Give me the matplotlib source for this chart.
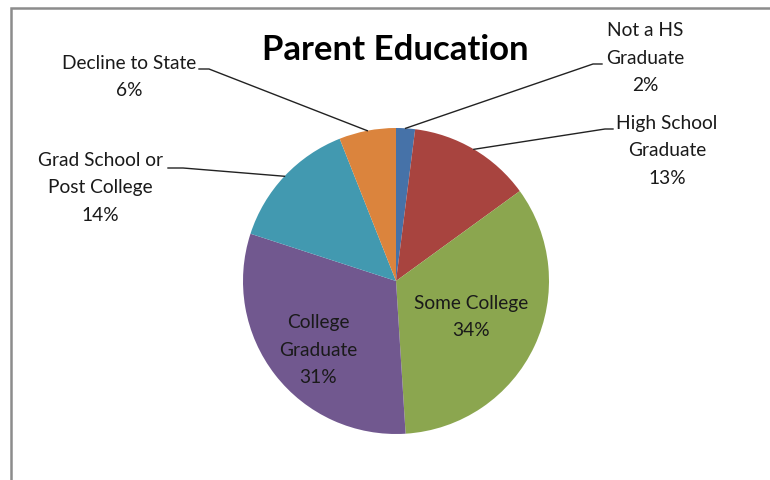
import numpy as np
import matplotlib.pyplot as plt
from matplotlib.patches import Rectangle

plt.rcParams['font.family'] = ['Lato', 'DejaVu Sans']

W, H = 770, 480

categories = ['Not a HS\nGraduate', 'High School\nGraduate', 'Some College',
              'College\nGraduate', 'Grad School or\nPost College', 'Decline to State']
shares = [2, 13, 34, 31, 14, 6]
colors = ['#4672A8', '#A8443F', '#8BA64F', '#71588F', '#4299B0', '#DB843D']

# label anchors (pixel coords, y from top); None -> label sits inside the wedge
label_pos = [(645, 58), (667, 151), (471, 317), (318, 350), (100, 188), (129, 77)]
line_end = [(593, 64), (605, 129), None, None, (183, 168), (209, 69)]
line_tip = [(602, 64), (613, 129), None, None, (168, 168), (199, 69)]

cx, cy, r = 396, 281, 153

fig = plt.figure(figsize=(W / 100, H / 100), dpi=100)
ax = fig.add_axes([0, 0, 1, 1])

wedges, _ = ax.pie(shares, colors=colors, startangle=90, counterclock=False,
                   center=(cx, H - cy), radius=r, frame=True,
                   wedgeprops=dict(edgecolor='none'))
ax.set_xlim(0, W)
ax.set_ylim(0, H)
ax.axis('off')

# chart area border
ax.add_patch(Rectangle((11, -20), W + 20, H - 8 + 20, fill=False,
                       edgecolor='#8c8c8c', linewidth=1.8, clip_on=False))

ax.text(395, H - 50, 'Parent Education', ha='center', va='center',
        fontsize=25, fontweight='bold', color='black')

for w, cat, val, pos, end, tip in zip(wedges, categories, shares,
                                      label_pos, line_end, line_tip):
    ax.text(pos[0], H - pos[1], f'{cat}\n{val}%', ha='center', va='center',
            fontsize=13.8, color='#1a1a1a', linespacing=1.72)
    if end is None:
        continue
    mid = np.deg2rad((w.theta1 + w.theta2) / 2)
    x0 = cx + r * np.cos(mid)
    y0 = (H - cy) + r * np.sin(mid)
    ax.plot([x0, end[0], tip[0]], [y0, H - end[1], H - tip[1]],
            color='#222222', linewidth=1)

fig.savefig('out.png', dpi=100)
